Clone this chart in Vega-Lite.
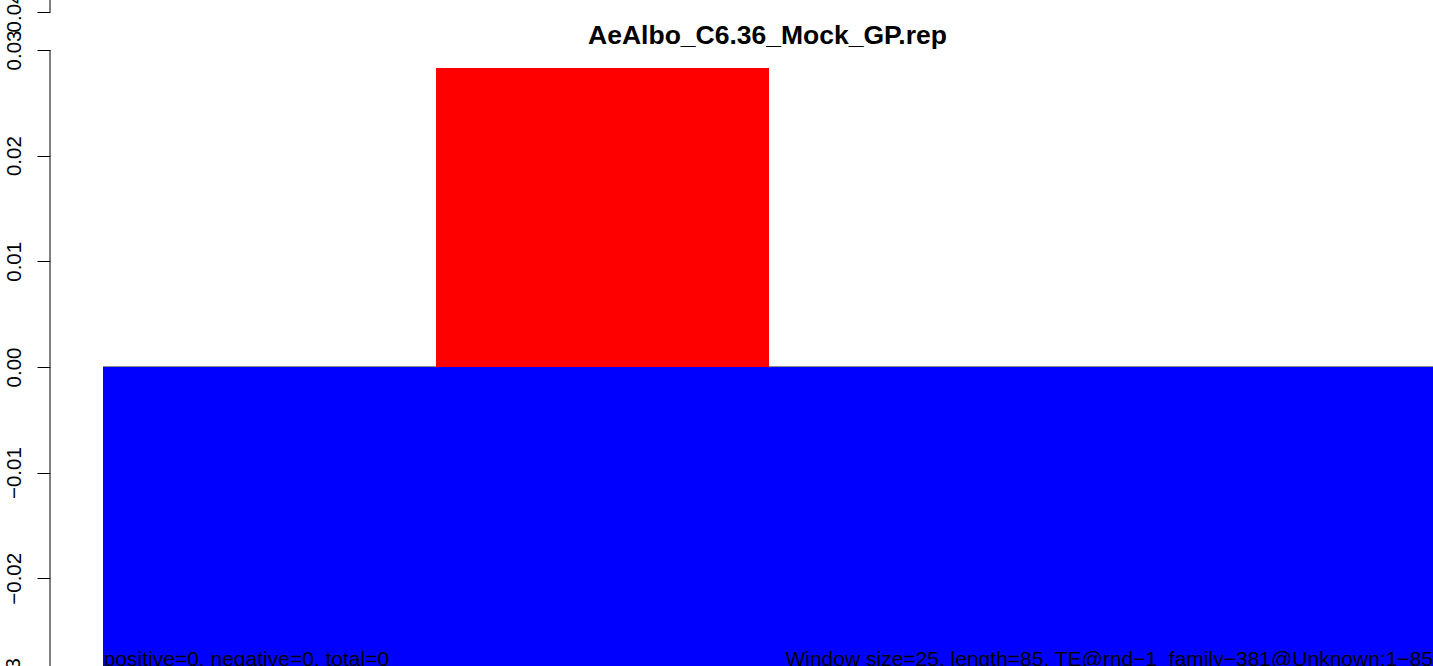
{
  "$schema": "https://vega.github.io/schema/vega-lite/v6.json",
  "width": 1383,
  "height": 666,
  "autosize": {"type": "none"},
  "padding": {"left": 50, "top": 0, "right": 0, "bottom": 0},
  "background": "white",
  "config": {"view": {"stroke": null}, "font": "Liberation Sans"},
  "title": {
    "text": "AeAlbo_C6.36_Mock_GP.rep",
    "font": "Liberation Sans",
    "fontSize": 26.5,
    "fontWeight": "bold",
    "color": "black",
    "anchor": "middle",
    "frame": "group",
    "baseline": "alphabetic",
    "offset": 0,
    "dy": 78.5,
    "dx": 26
  },
  "data": {
    "values": [
      {"start": 0, "end": 100, "score": -0.035, "strand": "negative"},
      {"start": 25, "end": 50, "score": 0.0283, "strand": "positive"}
    ]
  },
  "layer": [
    {
      "transform": [{"filter": "datum.strand === 'negative'"}],
      "mark": {"type": "rect", "clip": true, "color": "#0000ff"},
      "encoding": {
        "x": {"field": "start", "type": "quantitative", "scale": {"domain": [-3.98, 99.85], "nice": false, "zero": false}, "axis": null},
        "x2": {"field": "end"},
        "y": {
          "field": "score", "type": "quantitative",
          "scale": {"domain": [-0.0283, 0.03473], "nice": false, "zero": false},
          "axis": {
            "values": [-0.02, -0.01, 0, 0.01, 0.02, 0.03, 0.0336],
            "format": ".2f",
            "labelExpr": "datum.value > 0.031 ? '0.04' : datum.label",
            "title": null,
            "domain": false,
            "grid": false,
            "ticks": true,
            "tickSize": 13,
            "tickColor": "black",
            "tickWidth": 1,
            "labelAngle": -90,
            "labelAlign": "center",
            "labelBaseline": "alphabetic",
            "labelPadding": 16.5,
            "labelFont": "Liberation Sans",
            "labelFontSize": 20.5,
            "labelColor": "black",
            "labelOverlap": false,
            "labelFlush": false,
            "labelBound": false
          }
        },
        "y2": {"datum": 0}
      }
    },
    {
      "transform": [{"filter": "datum.strand === 'negative'"}],
      "mark": {"type": "rule", "clip": true, "color": "#888888", "strokeWidth": 1},
      "encoding": {
        "x": {"field": "start", "type": "quantitative", "scale": {"domain": [-3.98, 99.85], "nice": false, "zero": false}},
        "x2": {"field": "end"},
        "y": {"datum": 0.00005, "type": "quantitative", "scale": {"domain": [-0.0283, 0.03473], "nice": false, "zero": false}}
      }
    },
    {
      "transform": [{"filter": "datum.strand === 'positive'"}],
      "mark": {"type": "rect", "clip": true, "color": "#ff0000"},
      "encoding": {
        "x": {"field": "start", "type": "quantitative", "scale": {"domain": [-3.98, 99.85], "nice": false, "zero": false}},
        "x2": {"field": "end"},
        "y": {"field": "score", "type": "quantitative", "scale": {"domain": [-0.0283, 0.03473], "nice": false, "zero": false}},
        "y2": {"datum": 0}
      }
    },
    {
      "data": {"values": [{"a": 1}]},
      "mark": {"type": "rule", "color": "black", "strokeWidth": 1, "clip": false},
      "encoding": {
        "x": {"datum": -3.98, "type": "quantitative", "scale": {"domain": [-3.98, 99.85], "nice": false, "zero": false}},
        "y": {"datum": 0.03, "type": "quantitative", "scale": {"domain": [-0.0283, 0.03473], "nice": false, "zero": false}},
        "y2": {"datum": -0.0283}
      }
    },
    {
      "data": {"values": [{"a": 1}]},
      "mark": {"type": "rule", "color": "black", "strokeWidth": 1, "clip": false},
      "encoding": {
        "x": {"datum": -3.98, "type": "quantitative", "scale": {"domain": [-3.98, 99.85], "nice": false, "zero": false}},
        "y": {"datum": 0.0336, "type": "quantitative", "scale": {"domain": [-0.0283, 0.03473], "nice": false, "zero": false}},
        "y2": {"datum": 0.03473}
      }
    },
    {
      "data": {"values": [{"a": 1}]},
      "mark": {"type": "text", "angle": 270, "align": "center", "baseline": "alphabetic", "font": "Liberation Sans", "fontSize": 20.5, "color": "black", "clip": false},
      "encoding": {
        "x": {"datum": -6.195, "type": "quantitative", "scale": {"domain": [-3.98, 99.85], "nice": false, "zero": false}},
        "y": {"datum": -0.03, "type": "quantitative", "scale": {"domain": [-0.0283, 0.03473], "nice": false, "zero": false}},
        "text": {"value": "−0.03"}
      }
    },
    {
      "data": {"values": [{"a": 1}]},
      "mark": {"type": "text", "align": "left", "baseline": "alphabetic", "font": "Liberation Sans", "fontSize": 21, "color": "black", "clip": false},
      "encoding": {
        "x": {"datum": 0.05, "type": "quantitative", "scale": {"domain": [-3.98, 99.85], "nice": false, "zero": false}},
        "y": {"datum": -0.0283, "type": "quantitative", "scale": {"domain": [-0.0283, 0.03473], "nice": false, "zero": false}},
        "text": {"value": "positive=0, negative=0, total=0"}
      }
    },
    {
      "data": {"values": [{"a": 1}]},
      "mark": {"type": "text", "align": "right", "baseline": "alphabetic", "font": "Liberation Sans", "fontSize": 21, "color": "black", "clip": false},
      "encoding": {
        "x": {"datum": 99.85, "type": "quantitative", "scale": {"domain": [-3.98, 99.85], "nice": false, "zero": false}},
        "y": {"datum": -0.0283, "type": "quantitative", "scale": {"domain": [-0.0283, 0.03473], "nice": false, "zero": false}},
        "text": {"value": "Window size=25, length=85, TE@rnd−1_family−381@Unknown:1−85"}
      }
    }
  ]
}
